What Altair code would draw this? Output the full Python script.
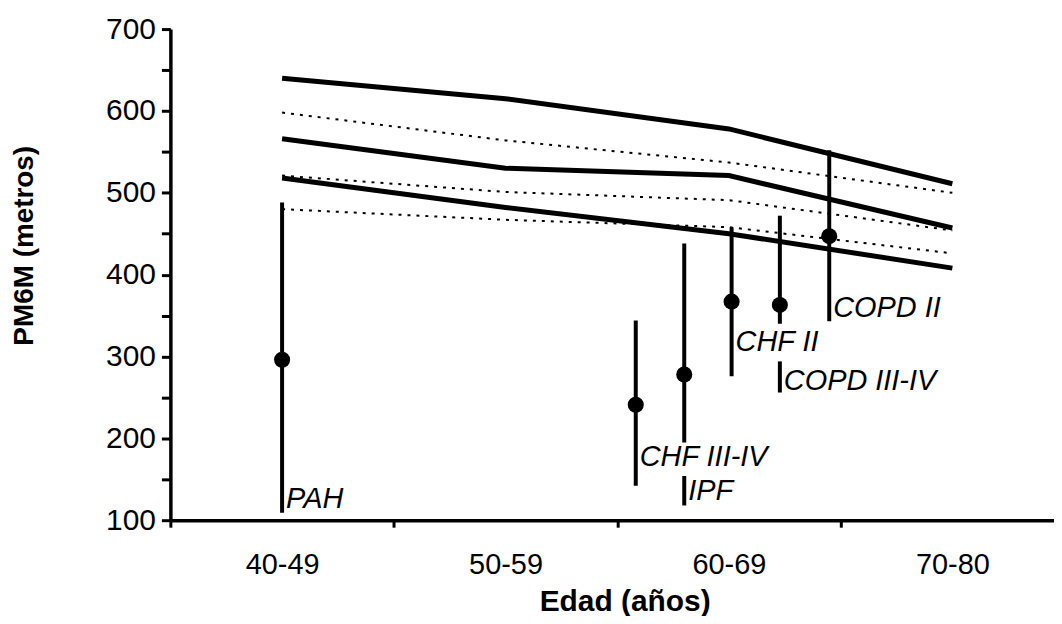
import json
import altair as alt
import pandas as pd

# ---- data ----
categories = ["40-49", "50-59", "60-69", "70-80"]
cat_pos = [0, 1, 2, 3]

upper_solid = [640, 615, 578, 511]
mid_solid = [566, 530, 521, 457]
lower_solid = [518, 482, 450, 408]
upper_dot = [598, 564, 537, 500]
mid_dot = [521, 501, 491, 454]
lower_dot = [480, 467, 458, 426]

groups = ["PAH", "CHF III-IV", "IPF", "CHF II", "COPD III-IV", "COPD II"]
group_x = [0.0, 1.583, 1.80, 2.012, 2.228, 2.449]
group_mean = [296, 241, 278, 367, 363, 447]
group_low = [109, 142, 195, 276, 340, 343]
group_high = [488, 344, 438, 458, 472, 552]
label_y = [126, 177, 136, 318, 270, 359]

marker_x = [1.80, 2.228]
marker_low = [118, 256]
marker_high = [154, 294]

y_ticks = list(range(100, 701, 50))
x_ticks = [-0.5, 0, 0.5, 1, 1.5, 2, 2.5, 3]

FONT = "Liberation Sans"

# ---- tables ----
solid_rows = []
for name, vals in [("s1", upper_solid), ("s2", mid_solid), ("s3", lower_solid)]:
    for xv, yv in zip(cat_pos, vals):
        solid_rows.append({"series": name, "x": xv, "y": yv})
dot_rows = []
for name, vals in [("d1", upper_dot), ("d2", mid_dot), ("d3", lower_dot)]:
    for xv, yv in zip(cat_pos, vals):
        dot_rows.append({"series": name, "x": xv, "y": yv})
solid_df = pd.DataFrame(solid_rows)
dot_df = pd.DataFrame(dot_rows)
grp_df = pd.DataFrame({"group": groups, "x": group_x, "mean": group_mean,
                       "low": group_low, "high": group_high, "ly": label_y})
mark_df = pd.DataFrame({"x": marker_x, "low": marker_low, "high": marker_high})

x_label_expr = ("datum.value % 1 === 0 ? " + json.dumps(categories) +
                "[datum.value] : ''")

x_scale = alt.Scale(domain=[-0.5, 3.455], nice=False, zero=False)
y_scale = alt.Scale(domain=[100, 700], nice=False, zero=False)

x_axis = alt.Axis(
    title="Edad (años)", values=x_ticks, labelExpr=x_label_expr,
    grid=False, domainColor="black", domainWidth=3.5,
    tickColor="black", tickWidth=3, tickSize=7,
    tickOpacity={"condition": {"test": "datum.value % 1 === 0", "value": 0}, "value": 1},
    labelFont=FONT, labelFontSize=29, labelColor="black", labelPadding=24,
    labelOverlap=False, labelFlush=False,
    titleFont=FONT, titleFontSize=30, titleFontWeight="bold", titleColor="black",
    titleX=456, titleY=91, titleAlign="center", titleBaseline="alphabetic",
)
y_axis = alt.Axis(
    title="PM6M (metros)", values=y_ticks,
    labelExpr="datum.value % 100 === 0 ? datum.label : ''",
    grid=False, domainColor="black", domainWidth=3.5,
    tickColor="black", tickWidth=3, tickSize=9,
    labelFont=FONT, labelFontSize=30, labelColor="black", labelPadding=6,
    labelOverlap=False, labelFlush=False,
    titleFont=FONT, titleFontSize=28, titleFontWeight="bold", titleColor="black",
    titleX=-138, titleY=217, titleAngle=-90, titleAlign="center",
    titleBaseline="alphabetic",
)

solid = alt.Chart(solid_df).mark_line(color="black", strokeWidth=5).encode(
    x=alt.X("x:Q", scale=x_scale, axis=x_axis),
    y=alt.Y("y:Q", scale=y_scale, axis=y_axis),
    detail="series:N",
)
dotted = alt.Chart(dot_df).mark_line(color="black", strokeWidth=2, strokeDash=[3, 6]).encode(
    x="x:Q", y="y:Q", detail="series:N",
)
bars = alt.Chart(grp_df).mark_rule(color="black", strokeWidth=4).encode(
    x="x:Q", y="low:Q", y2="high",
)
markers = alt.Chart(mark_df).mark_rule(color="black", strokeWidth=4).encode(
    x="x:Q", y="low:Q", y2="high",
)
points = alt.Chart(grp_df).mark_point(filled=True, color="black", size=260, opacity=1).encode(
    x="x:Q", y="mean:Q",
)
labels = alt.Chart(grp_df).mark_text(
    align="left", baseline="middle", dx=4, font=FONT, fontSize=29,
    fontStyle="italic", color="black",
).encode(x="x:Q", y="ly:Q", text="group:N")

chart = alt.layer(solid, dotted, bars, markers, points, labels).properties(
    width=887, height=493,
    autosize=alt.AutoSizeParams(type="none"),
    padding={"left": 163, "top": 20, "right": 0, "bottom": 95},
    background="white",
).configure_view(stroke=None)

chart.save("out.html", embed_options={"renderer": "svg", "actions": False})
